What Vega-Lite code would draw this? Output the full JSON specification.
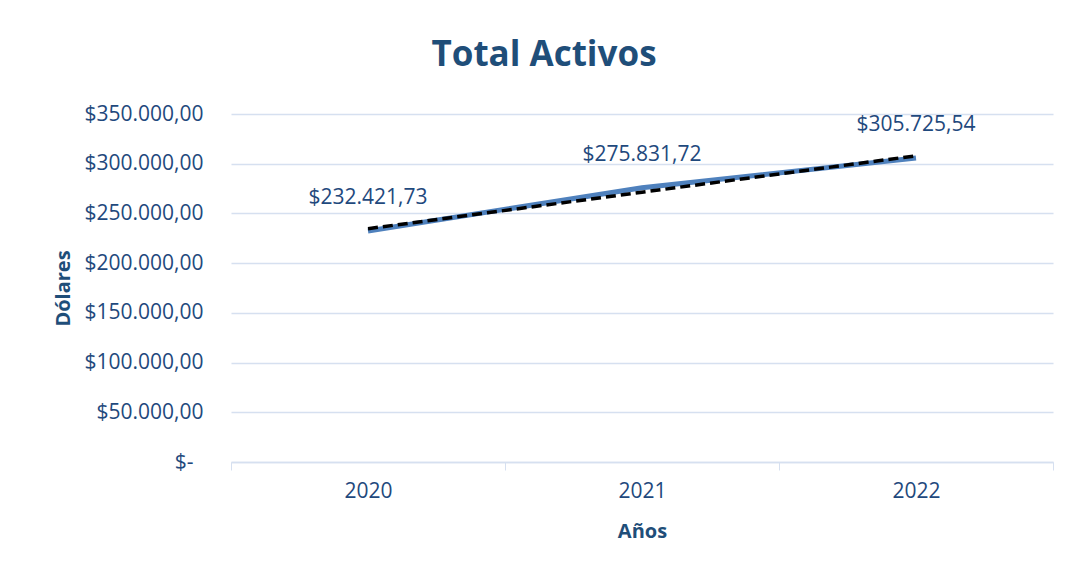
{
  "$schema": "https://vega.github.io/schema/vega-lite/v6.json",
  "autosize": {"type": "none"},
  "width": 822,
  "height": 348,
  "padding": {"left": 231, "top": 114, "right": 17, "bottom": 109},
  "background": "white",
  "config": {
    "locale": {"number": {"decimal": ",", "thousands": ".", "grouping": [3], "currency": ["$", ""]}},
    "view": {"stroke": null},
    "font": "Open Sans"
  },
  "title": {
    "text": "Total Activos",
    "font": "Open Sans",
    "fontSize": 35,
    "fontWeight": "bold",
    "color": "#1F4E79",
    "anchor": "middle",
    "dx": -98,
    "offset": 30
  },
  "data": {
    "values": [
      {"year": "2020", "valor": 232421.73, "tendencia": 234674.4},
      {"year": "2021", "valor": 275831.72, "tendencia": 271326.3},
      {"year": "2022", "valor": 305725.54, "tendencia": 307978.2}
    ]
  },
  "encoding": {
    "x": {
      "field": "year",
      "type": "ordinal",
      "scale": {"paddingInner": 0, "paddingOuter": 0},
      "axis": {
        "title": "Años",
        "titleFont": "Open Sans",
        "titleFontSize": 20,
        "titleFontWeight": "bold",
        "titleColor": "#1F4E79",
        "titlePadding": 20,
        "labelAngle": 0,
        "labelFont": "Open Sans",
        "labelFontSize": 21,
        "labelColor": "#1F497D",
        "labelPadding": 10,
        "tickBand": "extent",
        "tickSize": 8,
        "tickColor": "#D6E0F0",
        "domainColor": "#D6E0F0",
        "domainWidth": 1.5,
        "grid": false
      }
    }
  },
  "layer": [
    {
      "mark": {"type": "line", "color": "#4F81BD", "strokeWidth": 5},
      "encoding": {
        "y": {
          "field": "valor",
          "type": "quantitative",
          "scale": {"domain": [0, 350000], "nice": false},
          "axis": {
            "title": "Dólares",
            "titleFont": "Open Sans",
            "titleFontSize": 20,
            "titleFontWeight": "bold",
            "titleColor": "#1F4E79",
            "titlePadding": 10,
            "values": [0, 50000, 100000, 150000, 200000, 250000, 300000, 350000],
            "format": "$,.2f",
            "labelExpr": "datum.value === 0 ? '$-' : datum.label",
            "labelFont": "Open Sans",
            "labelFontSize": 21,
            "labelColor": "#1F497D",
            "labelPadding": {"condition": {"test": "datum.value === 0", "value": 38}, "value": 28},
            "ticks": false,
            "domain": false,
            "grid": true,
            "gridColor": "#D6E0F0",
            "gridWidth": 1.5
          }
        }
      }
    },
    {
      "mark": {"type": "line", "color": "#000000", "strokeWidth": 3.5, "strokeDash": [10, 5]},
      "encoding": {
        "y": {"field": "tendencia", "type": "quantitative"}
      }
    },
    {
      "mark": {"type": "text", "dy": -33, "font": "Open Sans", "fontSize": 21, "color": "#1F497D", "baseline": "middle"},
      "encoding": {
        "y": {"field": "valor", "type": "quantitative"},
        "text": {"field": "valor", "type": "quantitative", "format": "$,.2f"}
      }
    }
  ]
}
